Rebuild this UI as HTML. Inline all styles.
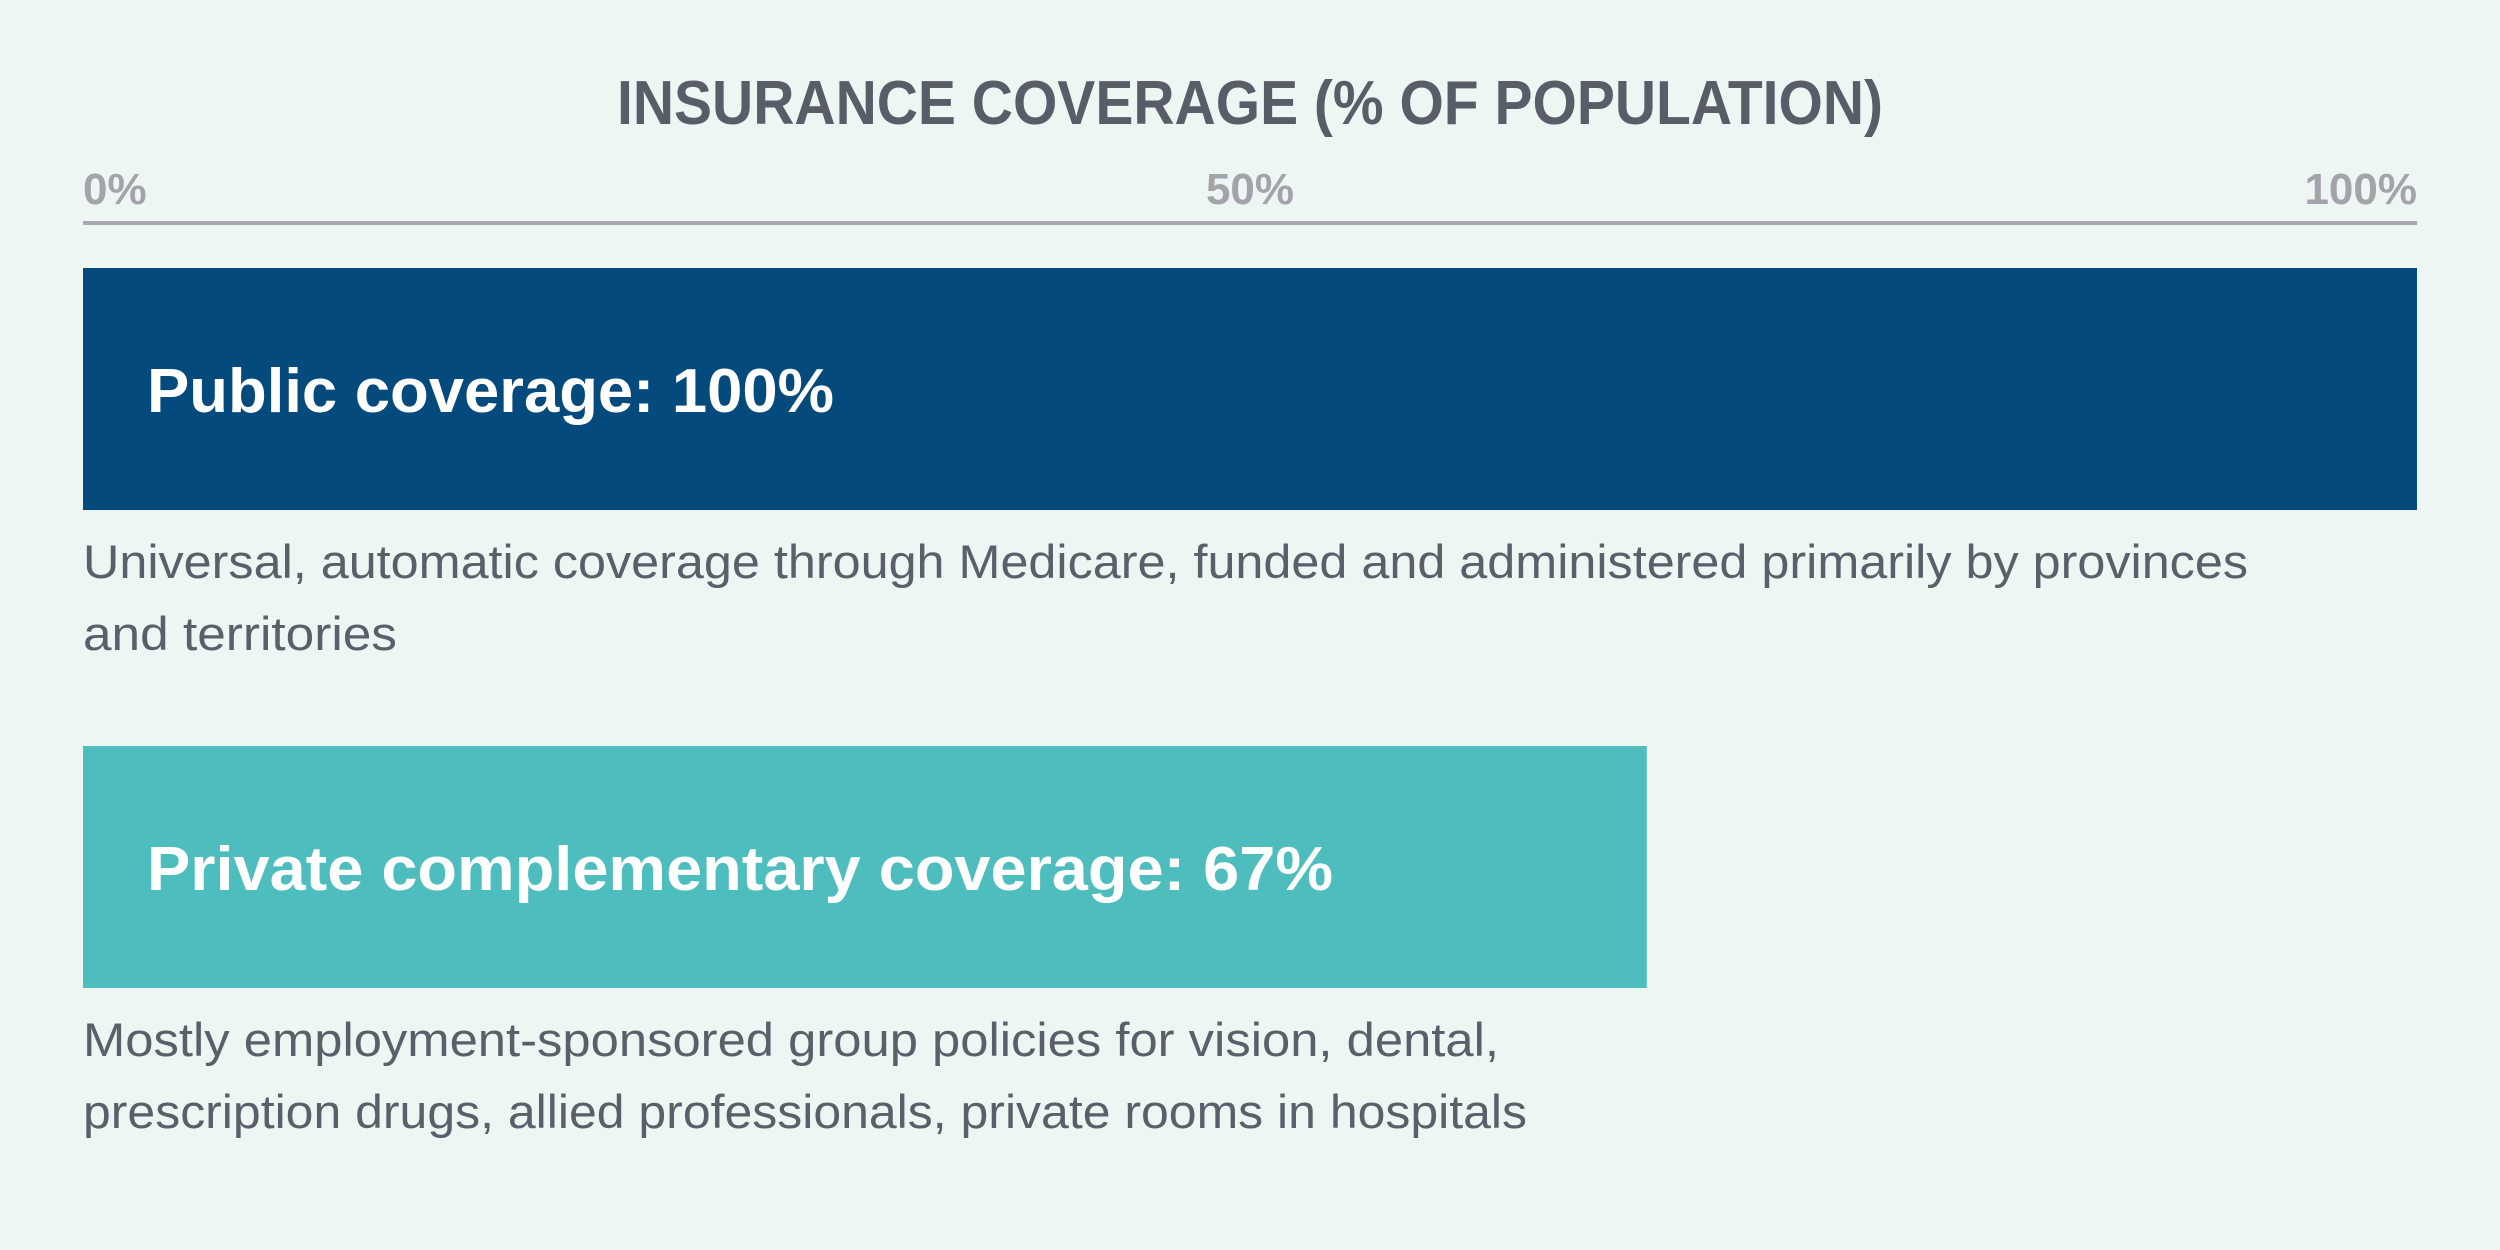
<!DOCTYPE html>
<html><head><meta charset="utf-8"><style>
html,body{margin:0;padding:0;background:#eef6f4;}
svg{display:block;font-family:"Liberation Sans",sans-serif;}
</style></head><body>
<svg id="chart" width="2500" height="1250" viewBox="0 0 2500 1250">
<rect x="0" y="0" width="2500" height="1250" fill="#eef6f4"/>
<text x="617" y="124" font-size="62" font-weight="bold" fill="#585d68" textLength="1266" lengthAdjust="spacingAndGlyphs">INSURANCE COVERAGE (% OF POPULATION)</text>
<line x1="83" y1="223" x2="2417" y2="223" stroke="#a8a8ae" stroke-width="4"/>
<g id="ticks"></g>
<g id="bars"></g>
</svg>
<script>
const categories = ["Public coverage", "Private complementary coverage"];
const values = [100, 67];
const tickValues = [0, 50, 100];
const tickLabels = ["0%", "50%", "100%"];
const descriptions = [
  ["Universal, automatic coverage through Medicare, funded and administered primarily by provinces", "and territories"],
  ["Mostly employment-sponsored group policies for vision, dental,", "prescription drugs, allied professionals, private rooms in hospitals"]
];
const NS = "http://www.w3.org/2000/svg";
const x0 = 83, x1 = 2417;
function xScale(v){ return x0 + (x1 - x0) * v / 100; }
function mk(tag, attrs, parent){ const e = document.createElementNS(NS, tag); for (const k in attrs) e.setAttribute(k, attrs[k]); parent.appendChild(e); return e; }
const tg = document.getElementById('ticks');
tickValues.forEach((v, i) => {
  const anchor = i === 0 ? 'start' : (i === tickValues.length - 1 ? 'end' : 'middle');
  const t = mk('text', {x: xScale(v), y: 204, 'font-size': 44, 'font-weight': 'bold', fill: '#a3a3aa', 'text-anchor': anchor}, tg);
  
  
  t.textContent = tickLabels[i];
});
const bg = document.getElementById('bars');
const colors = ["#054a7c", "#4dbdbd"];
const barTop = [268, 746];
const labelWidths = [687, 1186];
const descWidths = [[2165, 314], [1416, 1444]];
categories.forEach((c, i) => {
  const y = barTop[i];
  const r = mk('rect', {x: xScale(0), y: y, width: xScale(values[i]) - xScale(0), height: 242, fill: colors[i]}, bg);
  
  
  const t = mk('text', {x: 147, y: y + 144, 'font-size': 62, 'font-weight': 'bold', fill: '#ffffff', textLength: labelWidths[i], lengthAdjust: 'spacingAndGlyphs'}, bg);
  
  
  t.textContent = c + ": " + values[i] + "%";
  descriptions[i].forEach((line, j) => {
    const d = mk('text', {x: 83, y: y + 310 + j * 72, 'font-size': 47, fill: '#5a5f6a', textLength: descWidths[i][j], lengthAdjust: 'spacingAndGlyphs'}, bg);
    
    
    d.textContent = line;
  });
});
</script>
</body></html>
